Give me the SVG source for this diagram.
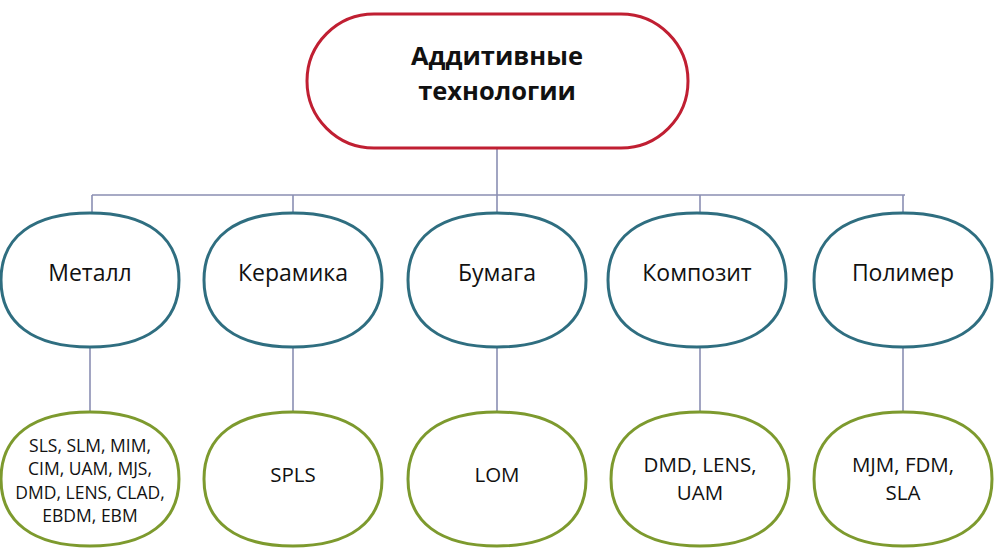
<svg xmlns="http://www.w3.org/2000/svg" xmlns:xlink="http://www.w3.org/1999/xlink" width="1000" height="552" viewBox="0 0 1000 552">
<defs>
<path id="blob" d="M-89 0C-89-43-57-67 0-67C57-67 89-43 89 0C89 43 57 67 0 67C-57 67-89 43-89 0Z"/>
</defs>
<style>
.bg{fill:#ffffff}
.top{fill:#ffffff;stroke:#c01f32;stroke-width:3}
.mid{fill:#ffffff;stroke:#2f6e80;stroke-width:3}
.bot{fill:#ffffff;stroke:#7d9a2e;stroke-width:3}
.con{stroke:#8b8fb3;stroke-width:1.6;fill:none}
text{font-family:"Open Sans","Noto Sans","Liberation Sans",sans-serif;fill:#111111;text-anchor:middle}
.tt{font-size:25.5px;font-weight:bold}
.mt{font-size:23px}
.bt{font-size:20.5px}
.bs{font-size:17.5px}
</style>
<rect class="bg" x="0" y="0" width="1000" height="552"/>
<g id="connectors">
<path class="con" d="M497 148V195M92 195H905M92 195V213M293 195V213M497 195V213M700 195V213M903 195V213"/>
<path class="con" d="M90 347V412M293 347V412M497 347V412M700 347V412M903 347V412"/>
</g>
<g id="root">
<rect class="top" x="307" y="14" width="381" height="134" rx="67" ry="67"/>
<text class="tt" x="497" y="65">Аддитивные</text>
<text class="tt" x="497" y="100">технологии</text>
</g>
<g id="metal">
<use href="#blob" xlink:href="#blob" class="mid" x="90" y="280"/>
<text class="mt" x="90" y="281">Металл</text>
</g>
<g id="ceramic">
<use href="#blob" xlink:href="#blob" class="mid" x="293" y="280"/>
<text class="mt" x="293" y="281">Керамика</text>
</g>
<g id="paper">
<use href="#blob" xlink:href="#blob" class="mid" x="497" y="280"/>
<text class="mt" x="497" y="281">Бумага</text>
</g>
<g id="composite">
<use href="#blob" xlink:href="#blob" class="mid" x="697" y="280"/>
<text class="mt" x="697" y="281">Композит</text>
</g>
<g id="polymer">
<use href="#blob" xlink:href="#blob" class="mid" x="903" y="280"/>
<text class="mt" x="903" y="281">Полимер</text>
</g>
<g id="metal-tech">
<use href="#blob" xlink:href="#blob" class="bot" x="90" y="479"/>
<text class="bs" x="90" y="452">SLS, SLM, MIM,</text>
<text class="bs" x="90" y="475">CIM, UAM, MJS,</text>
<text class="bs" x="90" y="499">DMD, LENS, CLAD,</text>
<text class="bs" x="90" y="522">EBDM, EBM</text>
</g>
<g id="ceramic-tech">
<use href="#blob" xlink:href="#blob" class="bot" x="293" y="479"/>
<text class="bt" x="293" y="482">SPLS</text>
</g>
<g id="paper-tech">
<use href="#blob" xlink:href="#blob" class="bot" x="497" y="479"/>
<text class="bt" x="497" y="482">LOM</text>
</g>
<g id="composite-tech">
<use href="#blob" xlink:href="#blob" class="bot" x="700" y="479"/>
<text class="bt" x="700" y="472">DMD, LENS,</text>
<text class="bt" x="700" y="500">UAM</text>
</g>
<g id="polymer-tech">
<use href="#blob" xlink:href="#blob" class="bot" x="903" y="479"/>
<text class="bt" x="903" y="472">MJM, FDM,</text>
<text class="bt" x="903" y="500">SLA</text>
</g>
</svg>
